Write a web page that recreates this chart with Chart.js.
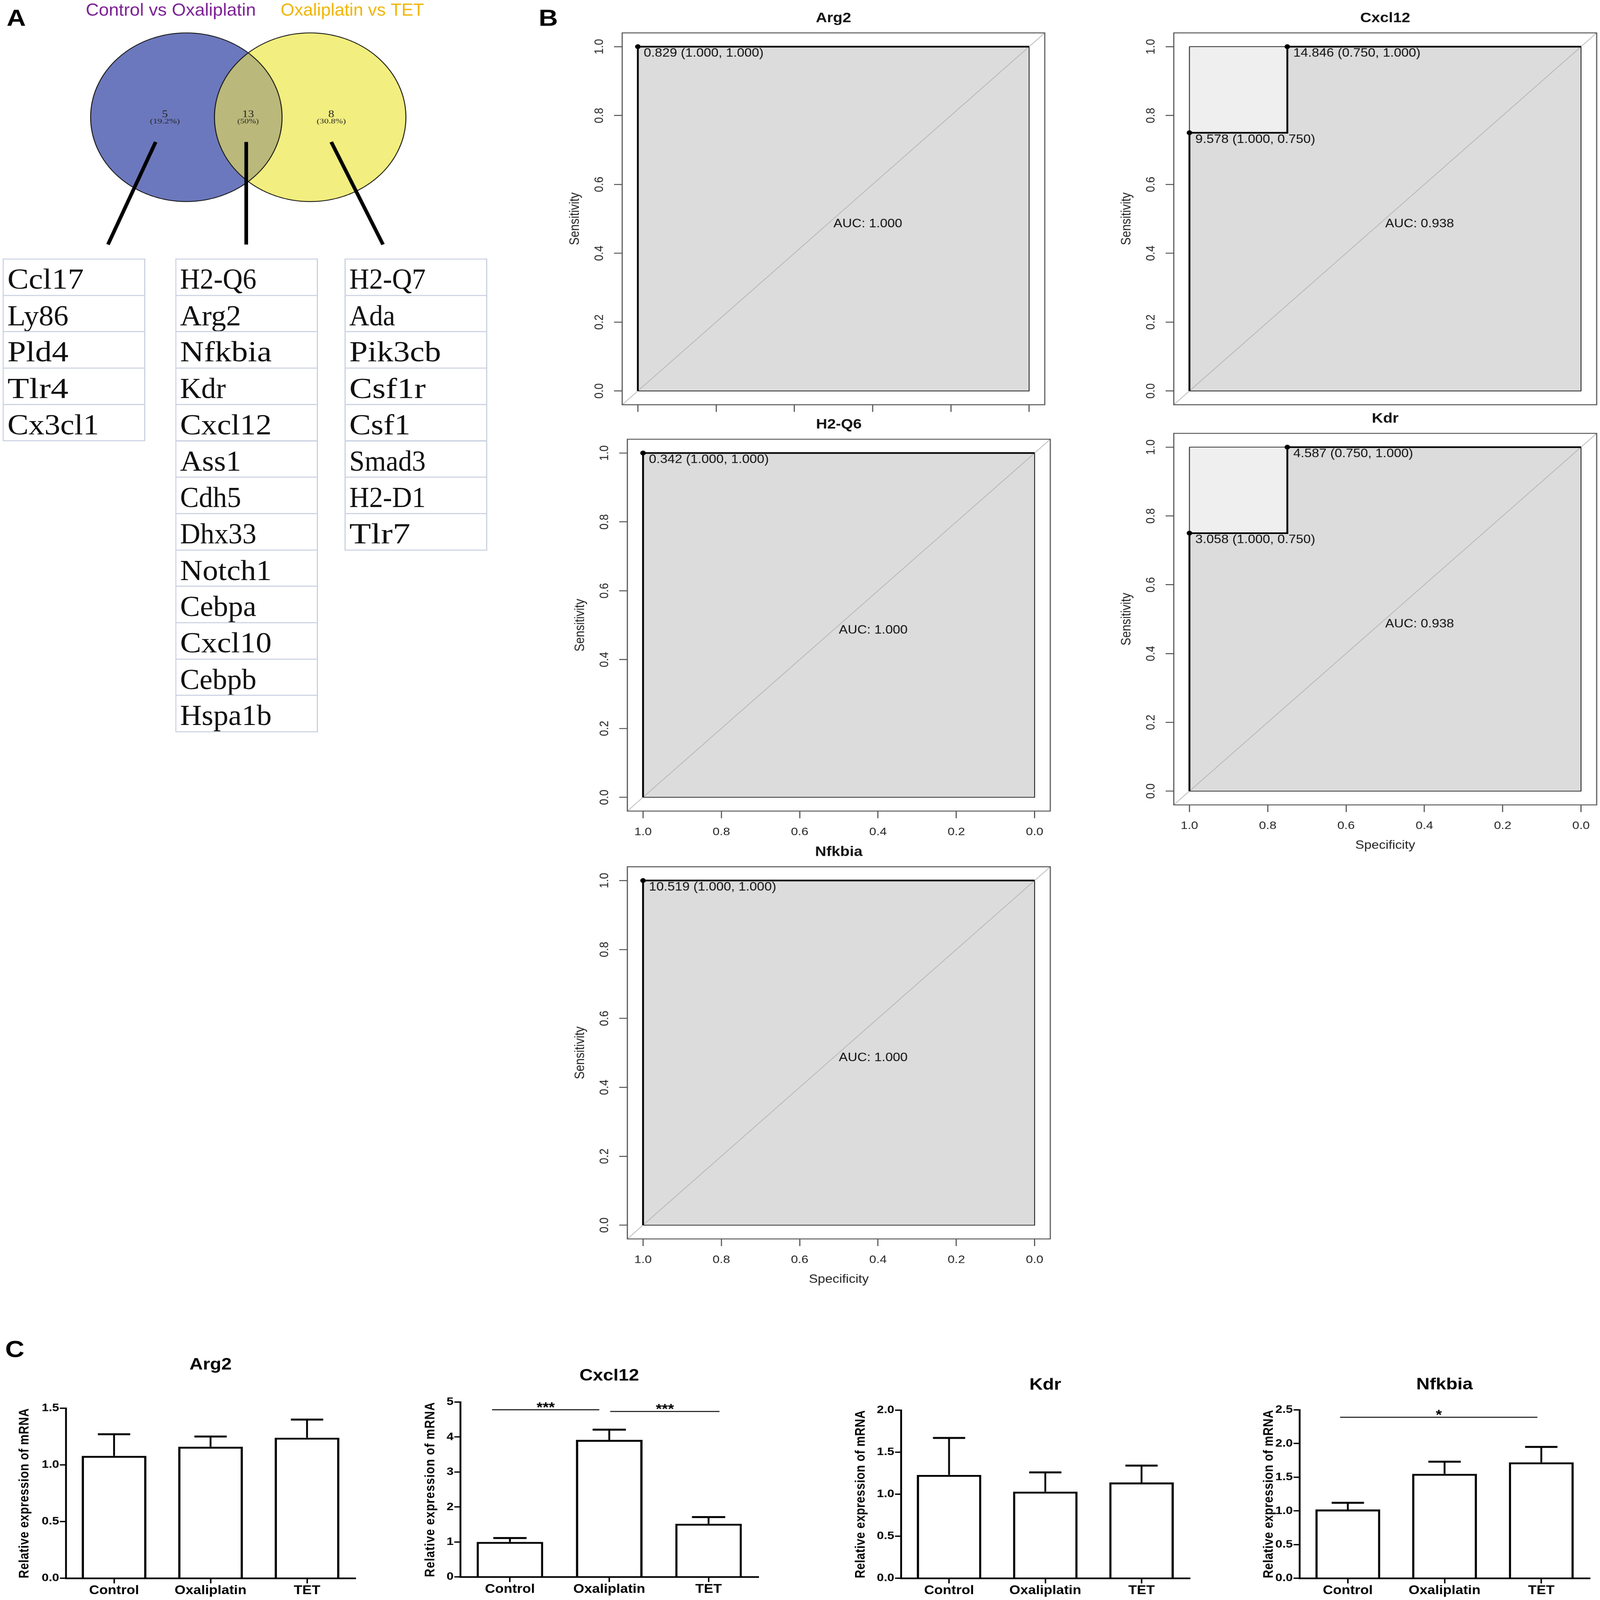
<!DOCTYPE html>
<html>
<head>
<meta charset="utf-8">
<title>Venn, ROC and qPCR panels</title>
<script src="https://cdn.jsdelivr.net/npm/chart.js@4.4.1/dist/chart.umd.min.js"></script>
<style>
  html, body { margin: 0; padding: 0; background: #fff; overflow: hidden; }
  #page { position: relative; width: 4328px; height: 4914px; overflow: hidden; background: #fff; transform-origin: 0 0; }
  #page canvas { position: absolute; }
  .panel { position: absolute; font: bold 72px "Liberation Sans", Arial, sans-serif; line-height: 72px; color: #000; }
  .cell { position: absolute; box-sizing: border-box; border: 3px solid #c8cfe0; background: #fff; }
  .cell span { position: absolute; left: 10px; top: 15px; font: 90px "Liberation Serif", serif; line-height: 90px;
               color: #111; transform-origin: 0 0; white-space: nowrap; }
</style>
</head>
<body>
<div id="page">
  <canvas id="venn"></canvas>
  <canvas id="rocArg2"></canvas>
  <canvas id="rocCxcl12"></canvas>
  <canvas id="rocH2q6"></canvas>
  <canvas id="rocKdr"></canvas>
  <canvas id="rocNfkbia"></canvas>
  <canvas id="barArg2"></canvas>
  <canvas id="barCxcl12"></canvas>
  <canvas id="barKdr"></canvas>
  <canvas id="barNfkbia"></canvas>
  <div class="panel" style="left:18px;top:18px">A</div>
  <div class="panel" style="left:1457px;top:18px">B</div>
  <div class="panel" style="left:14px;top:4107px">C</div>
</div>
<script>
Chart.defaults.font.family = '"Liberation Sans", Arial, sans-serif';
Chart.defaults.color = '#000';

// Panel A: Venn + gene lists
const setNames = ['Control vs Oxaliplatin', 'Oxaliplatin vs TET'];
const vennCounts = [5, 13, 8];
const vennShares = ['(19.2%)', '(50%)', '(30.8%)'];
const controlOxaOnly = ['Ccl17', 'Ly86', 'Pld4', 'Tlr4', 'Cx3cl1'];
const sharedGenes = ['H2-Q6', 'Arg2', 'Nfkbia', 'Kdr', 'Cxcl12', 'Ass1', 'Cdh5', 'Dhx33', 'Notch1', 'Cebpa', 'Cxcl10', 'Cebpb', 'Hspa1b'];
const oxaTetOnly = ['H2-Q7', 'Ada', 'Pik3cb', 'Csf1r', 'Csf1', 'Smad3', 'H2-D1', 'Tlr7'];

// Panel B: ROC curves (specificity, sensitivity)
const rocTicks = [0, 0.2, 0.4, 0.6, 0.8, 1];
const rocTickLabels = ['0.0', '0.2', '0.4', '0.6', '0.8', '1.0'];

const arg2Spec = [1, 1, 0];
const arg2Sens = [0, 1, 1];
const arg2CutSpec = [1];
const arg2CutSens = [1];
const arg2Cut = ['0.829'];
const arg2Auc = 1.000;

const cxcl12Spec = [1, 1, 0.75, 0.75, 0];
const cxcl12Sens = [0, 0.75, 0.75, 1, 1];
const cxcl12CutSpec = [1, 0.75];
const cxcl12CutSens = [0.75, 1];
const cxcl12Cut = ['9.578', '14.846'];
const cxcl12Auc = 0.938;

const h2q6Spec = [1, 1, 0];
const h2q6Sens = [0, 1, 1];
const h2q6CutSpec = [1];
const h2q6CutSens = [1];
const h2q6Cut = ['0.342'];
const h2q6Auc = 1.000;

const kdrSpec = [1, 1, 0.75, 0.75, 0];
const kdrSens = [0, 0.75, 0.75, 1, 1];
const kdrCutSpec = [1, 0.75];
const kdrCutSens = [0.75, 1];
const kdrCut = ['3.058', '4.587'];
const kdrAuc = 0.938;

const nfkbiaSpec = [1, 1, 0];
const nfkbiaSens = [0, 1, 1];
const nfkbiaCutSpec = [1];
const nfkbiaCutSens = [1];
const nfkbiaCut = ['10.519'];
const nfkbiaAuc = 1.000;

// Panel C: relative mRNA expression (mean, upper error)
const groups = ['Control', 'Oxaliplatin', 'TET'];

const arg2Mean = [1.08, 1.16, 1.24];
const arg2Err = [0.19, 0.09, 0.16];
const arg2Ticks = [0, 0.5, 1, 1.5];
const arg2TickLabels = ['0.0', '0.5', '1.0', '1.5'];

const cxcl12Mean = [1.00, 3.92, 1.52];
const cxcl12Err = [0.11, 0.29, 0.19];
const cxcl12Ticks = [0, 1, 2, 3, 4, 5];
const cxcl12TickLabels = ['0', '1', '2', '3', '4', '5'];
const cxcl12Sig = [[-0.18, 0.90, 4.78, '***'], [1.01, 2.11, 4.73, '***']];

const kdrMean = [1.23, 1.03, 1.14];
const kdrErr = [0.44, 0.23, 0.20];
const kdrTicks = [0, 0.5, 1, 1.5, 2];
const kdrTickLabels = ['0.0', '0.5', '1.0', '1.5', '2.0'];

const nfkbiaMean = [1.02, 1.55, 1.72];
const nfkbiaErr = [0.10, 0.18, 0.23];
const nfkbiaTicks = [0, 0.5, 1, 1.5, 2, 2.5];
const nfkbiaTickLabels = ['0.0', '0.5', '1.0', '1.5', '2.0', '2.5'];
const nfkbiaSig = [[-0.08, 1.96, 2.39, '*']];

const page = document.getElementById('page');

// the figure is laid out at 4328x4914, then fitted into whatever window we get
function fitPage() {
    const sx = window.innerWidth / 4328;
    const sy = window.innerHeight / 4914;
    page.style.transform = 'scale(' + sx + ',' + sy + ')';
}
fitPage();

// put a canvas so that its chart area lands on "area"
function place(id, area, pad) {
    const c = document.getElementById(id);
    const w = area.r - area.l + pad.l + pad.r;
    const h = area.b - area.t + pad.t + pad.b;
    c.width = w;
    c.height = h;
    c.style.left = (area.l - pad.l) + 'px';
    c.style.top = (area.t - pad.t) + 'px';
    c.style.width = w + 'px';
    c.style.height = h + 'px';
    return c;
}

function fitText(ctx, text, cx, cy, width) {
    const w = ctx.measureText(text).width;
    ctx.save();
    ctx.translate(cx, cy);
    ctx.scale(width / w, 1);
    ctx.fillText(text, 0, 0);
    ctx.restore();
}

const baseOptions = {
    responsive: false,
    animation: false,
    devicePixelRatio: 1,
    events: [],
};

// ---- Venn ----
const vennPlugin = {
    id: 'vennDraw',
    afterDraw(chart) {
        const { ctx, scales: { x, y } } = chart;
        const X = v => x.getPixelForValue(v);
        const Y = v => y.getPixelForValue(v);
        const r = X(259) - X(0);
        const left = [X(504), Y(360)];
        const right = [X(839), Y(360)];
        const circle = c => { ctx.beginPath(); ctx.arc(c[0], c[1], r, 0, Math.PI * 2); };

        ctx.save();
        ctx.fillStyle = '#6c78bd'; circle(left); ctx.fill();
        ctx.fillStyle = '#f2ee7f'; circle(right); ctx.fill();
        ctx.save();
        circle(left); ctx.clip();
        ctx.fillStyle = '#bbb87b'; circle(right); ctx.fill();
        ctx.restore();
        ctx.strokeStyle = '#111'; ctx.lineWidth = 2.5;
        circle(left); ctx.stroke();
        circle(right); ctx.stroke();

        // set titles
        ctx.textAlign = 'center';
        ctx.textBaseline = 'alphabetic';
        ctx.font = '53px "Liberation Sans"';
        ctx.fillStyle = '#7b1f94';
        fitText(ctx, setNames[0], X(462), Y(48), 460);
        ctx.fillStyle = '#f1b400';
        fitText(ctx, setNames[1], X(953), Y(48), 388);

        // counts
        const cx = [X(446), X(671), X(896)];
        const shareW = [81, 58, 79];
        ctx.fillStyle = '#222';
        vennCounts.forEach((n, i) => {
            ctx.font = '32px "Liberation Serif"';
            ctx.fillText(String(n), cx[i], Y(360));
            ctx.font = '20px "Liberation Serif"';
            fitText(ctx, vennShares[i], cx[i], Y(379), shareW[i]);
        });

        // pointers to the gene lists
        ctx.strokeStyle = '#000';
        ctx.lineWidth = 10;
        [[421, 436, 292, 751], [666, 436, 666, 751], [896, 436, 1036, 751]].forEach(s => {
            ctx.beginPath();
            ctx.moveTo(X(s[0]), Y(s[1]));
            ctx.lineTo(X(s[2]), Y(s[3]));
            ctx.stroke();
        });
        ctx.restore();
    }
};

new Chart(place('venn', { l: 0, t: 0, r: 1400, b: 800 }, { l: 0, t: 0, r: 0, b: 0 }), {
    type: 'scatter',
    data: { datasets: [{ data: [] }] },
    options: Object.assign({}, baseOptions, {
        layout: { padding: 0 },
        plugins: { legend: { display: false }, tooltip: { enabled: false } },
        scales: {
            x: { display: false, min: 0, max: 1400 },
            y: { display: false, min: 0, max: 800, reverse: true }
        }
    }),
    plugins: [vennPlugin]
});

// gene tables, each name squeezed to a fixed-pitch width like the original
const measureCtx = document.createElement('canvas').getContext('2d');
measureCtx.font = '90px "Liberation Serif"';
const tableCols = [controlOxaOnly, sharedGenes, oxaTetOnly];
const colLeft = [7, 474, 932];
tableCols.forEach((genes, c) => {
    genes.forEach((g, i) => {
        const d = document.createElement('div');
        d.className = 'cell';
        d.style.left = colLeft[c] + 'px';
        d.style.top = (794 + i * 111.7) + 'px';
        d.style.width = '386px';
        d.style.height = '114.7px';
        const s = document.createElement('span');
        s.textContent = g;
        const natural = measureCtx.measureText(g).width;
        s.style.transform = 'scaleX(' + (41.3 * g.length / natural) + ')';
        d.appendChild(s);
        page.appendChild(d);
    });
});

// ---- ROC ----
function rocPanel(id, box, title, spec, sens, cutSpec, cutSens, cuts, auc, show) {
    const pad = { l: 180, t: 100, r: 20, b: 170 };
    const canvas = place(id, box, pad);
    const curve = spec.map((s, i) => ({ x: s, y: sens[i] }));
    const cutPts = cutSpec.map((s, i) => ({ x: s, y: cutSens[i] }));
    const line = (data, extra) => Object.assign({
        data, pointRadius: 0, borderColor: 'rgba(0,0,0,0)', borderWidth: 1, fill: false, tension: 0
    }, extra);

    const rocLabels = {
        id: 'rocLabels',
        afterDatasetsDraw(chart) {
            const { ctx, chartArea: a, scales: { x, y } } = chart;
            ctx.save();
            ctx.strokeStyle = '#555';
            ctx.lineWidth = 3;
            ctx.strokeRect(a.left, a.top, a.right - a.left, a.bottom - a.top);
            ctx.fillStyle = '#111';
            ctx.font = '36px "Liberation Sans"';
            ctx.textAlign = 'left';
            ctx.textBaseline = 'middle';
            cutPts.forEach((p, i) => {
                ctx.fillText(cuts[i] + ' (' + p.x.toFixed(3) + ', ' + p.y.toFixed(3) + ')',
                    x.getPixelForValue(p.x) + 16, y.getPixelForValue(p.y) + 21);
            });
            ctx.fillText('AUC: ' + auc.toFixed(3), x.getPixelForValue(0.5), y.getPixelForValue(0.5) + 16);
            ctx.font = 'bold 42px "Liberation Sans"';
            ctx.textAlign = 'center';
            ctx.fillText(title, (a.left + a.right) / 2, a.top - 45);
            ctx.restore();
        }
    };

    new Chart(canvas, {
        type: 'line',
        data: {
            datasets: [
                line(cutPts, { showLine: false, pointRadius: 7, pointBackgroundColor: '#000', pointBorderColor: '#000', order: 0 }),
                line(curve, { borderColor: '#000', borderWidth: 5, order: 1 }),
                line([{ x: 1.04, y: -0.04 }, { x: -0.04, y: 1.04 }], { borderColor: '#b4b4b4', borderWidth: 2, order: 2 }),
                line([{ x: 1, y: 1 }, { x: 1, y: 0 }, { x: 0, y: 0 }, { x: 0, y: 1 }, { x: 1, y: 1 }], { borderColor: '#000', borderWidth: 2, order: 3 }),
                line(curve, { fill: 'origin', backgroundColor: '#dcdcdc', order: 4 }),
                line([{ x: 1, y: 1 }, { x: 0, y: 1 }], { fill: 'origin', backgroundColor: '#efefef', order: 5 })
            ]
        },
        options: Object.assign({}, baseOptions, {
            layout: { padding: { left: 0, top: pad.t, right: pad.r, bottom: 0 } },
            elements: { line: { borderJoinStyle: 'miter' } },
            plugins: { legend: { display: false }, tooltip: { enabled: false } },
            scales: {
                x: {
                    type: 'linear', min: -0.04, max: 1.04, reverse: true,
                    afterBuildTicks: a => { a.ticks = rocTicks.map(v => ({ value: v })); },
                    afterFit: s => { s.height = pad.b; },
                    grid: { display: show.ticks, drawOnChartArea: false, tickLength: 22, lineWidth: 3, color: '#555' },
                    border: { display: false },
                    ticks: {
                        autoSkip: false, maxRotation: 0, padding: 22,
                        color: show.labels ? '#222' : 'rgba(0,0,0,0)', font: { size: 34 },
                        callback: (v, i) => rocTickLabels[i]
                    },
                    title: { display: show.title, text: 'Specificity', color: '#222', font: { size: 36 }, padding: { top: 0, bottom: 23 } }
                },
                y: {
                    type: 'linear', min: -0.04, max: 1.04,
                    afterBuildTicks: a => { a.ticks = rocTicks.map(v => ({ value: v })); },
                    afterFit: s => { s.width = pad.l; },
                    grid: { drawOnChartArea: false, tickLength: 22, lineWidth: 3, color: '#555' },
                    border: { display: false },
                    ticks: {
                        autoSkip: false, minRotation: 90, maxRotation: 90, crossAlign: 'center', padding: 16,
                        color: '#222', font: { size: 34 },
                        callback: (v, i) => rocTickLabels[i]
                    },
                    title: { display: true, text: 'Sensitivity', color: '#222', font: { size: 36 }, padding: { top: 31, bottom: 0 } }
                }
            }
        }),
        plugins: [rocLabels]
    });
}

rocPanel('rocArg2', { l: 1683, t: 101, r: 2826, b: 1243 }, 'Arg2',
    arg2Spec, arg2Sens, arg2CutSpec, arg2CutSens, arg2Cut, arg2Auc, { ticks: true, labels: false, title: false });
rocPanel('rocCxcl12', { l: 3175, t: 101, r: 4319, b: 1243 }, 'Cxcl12',
    cxcl12Spec, cxcl12Sens, cxcl12CutSpec, cxcl12CutSens, cxcl12Cut, cxcl12Auc, { ticks: false, labels: false, title: false });
rocPanel('rocH2q6', { l: 1697, t: 1349, r: 2841, b: 2491 }, 'H2-Q6',
    h2q6Spec, h2q6Sens, h2q6CutSpec, h2q6CutSens, h2q6Cut, h2q6Auc, { ticks: true, labels: true, title: false });
rocPanel('rocKdr', { l: 3175, t: 1331, r: 4319, b: 2472 }, 'Kdr',
    kdrSpec, kdrSens, kdrCutSpec, kdrCutSens, kdrCut, kdrAuc, { ticks: true, labels: true, title: true });
rocPanel('rocNfkbia', { l: 1697, t: 2662, r: 2841, b: 3805 }, 'Nfkbia',
    nfkbiaSpec, nfkbiaSens, nfkbiaCutSpec, nfkbiaCutSens, nfkbiaCut, nfkbiaAuc, { ticks: true, labels: true, title: true });

// ---- qPCR bars ----
function barPanel(id, area, title, titleGap, yTitleGap, mean, err, ticks, tickLabels, sig) {
    const pad = { l: 170, t: 180, r: 30, b: 67 };
    const canvas = place(id, area, pad);

    const barDeco = {
        id: 'barDeco',
        afterDatasetsDraw(chart) {
            const { ctx, chartArea: a, scales: { x, y } } = chart;
            const bars = chart.getDatasetMeta(0).data;
            ctx.save();
            ctx.strokeStyle = '#000';
            ctx.fillStyle = '#000';
            // upper error bars
            bars.forEach((bar, i) => {
                const top = y.getPixelForValue(mean[i] + err[i]);
                const half = bar.width * 0.25;
                ctx.lineWidth = 5;
                ctx.beginPath(); ctx.moveTo(bar.x, bar.y); ctx.lineTo(bar.x, top); ctx.stroke();
                ctx.lineWidth = 6;
                ctx.beginPath(); ctx.moveTo(bar.x - half, top); ctx.lineTo(bar.x + half, top); ctx.stroke();
            });
            // significance brackets
            ctx.lineWidth = 3;
            ctx.font = 'bold 42px "Liberation Sans"';
            ctx.textAlign = 'center';
            ctx.textBaseline = 'alphabetic';
            (sig || []).forEach(s => {
                const x0 = x.getPixelForValue(s[0]);
                const x1 = x.getPixelForValue(s[1]);
                const yy = y.getPixelForValue(s[2]);
                ctx.beginPath(); ctx.moveTo(x0, yy); ctx.lineTo(x1, yy); ctx.stroke();
                ctx.fillText(s[3], (x0 + x1) / 2, yy + 6);
            });
            // title
            ctx.font = 'bold 50px "Liberation Sans"';
            ctx.textBaseline = 'middle';
            ctx.fillText(title, (a.left + a.right) / 2, a.top - titleGap);
            // y axis title, stretched over the axis
            const text = 'Relative expression of mRNA';
            ctx.font = 'bold 36px "Liberation Sans"';
            const len = a.bottom - a.top;
            const w = ctx.measureText(text).width;
            ctx.translate(a.left - yTitleGap, (a.top + a.bottom) / 2);
            ctx.rotate(-Math.PI / 2);
            if ('letterSpacing' in ctx) {
                ctx.letterSpacing = ((len - w) / (text.length - 1)) + 'px';
                ctx.fillText(text, 0, 0);
                ctx.letterSpacing = '0px';
            } else {
                ctx.scale(len / w, 1);
                ctx.fillText(text, 0, 0);
            }
            ctx.restore();
        }
    };

    new Chart(canvas, {
        type: 'bar',
        data: {
            labels: groups,
            datasets: [{
                data: mean,
                backgroundColor: '#fff',
                borderColor: '#000',
                borderWidth: 6,
                barPercentage: 0.67,
                categoryPercentage: 1
            }]
        },
        options: Object.assign({}, baseOptions, {
            layout: { padding: { left: 0, top: pad.t, right: pad.r, bottom: 0 } },
            plugins: { legend: { display: false }, tooltip: { enabled: false } },
            scales: {
                x: {
                    z: 1,
                    afterFit: s => { s.height = pad.b; },
                    grid: { offset: false, drawOnChartArea: false, tickLength: 16, lineWidth: 4, color: '#000' },
                    border: { display: true, width: 5, color: '#000' },
                    ticks: { maxRotation: 0, padding: 0, color: '#000', font: { size: 38, weight: 'bold' } }
                },
                y: {
                    min: 0, max: ticks[ticks.length - 1],
                    afterBuildTicks: a => { a.ticks = ticks.map(v => ({ value: v })); },
                    afterFit: s => { s.width = pad.l; },
                    grid: { drawOnChartArea: false, tickLength: 16, lineWidth: 4, color: '#000' },
                    border: { display: true, width: 5, color: '#000' },
                    ticks: { padding: 2, color: '#000', font: { size: 34, weight: 'bold' }, callback: (v, i) => tickLabels[i] }
                }
            }
        }),
        plugins: [barDeco]
    });
}

barPanel('barArg2', { l: 178, t: 4325, r: 961, b: 4847 }, 'Arg2', 133, 111,
    arg2Mean, arg2Err, arg2Ticks, arg2TickLabels, null);
barPanel('barCxcl12', { l: 1245, t: 4306, r: 2051, b: 4843 }, 'Cxcl12', 80, 80,
    cxcl12Mean, cxcl12Err, cxcl12Ticks, cxcl12TickLabels, cxcl12Sig);
barPanel('barKdr', { l: 2437, t: 4331, r: 3218, b: 4847 }, 'Kdr', 77, 108,
    kdrMean, kdrErr, kdrTicks, kdrTickLabels, null);
barPanel('barNfkbia', { l: 3515, t: 4330, r: 4300, b: 4847 }, 'Nfkbia', 77, 82,
    nfkbiaMean, nfkbiaErr, nfkbiaTicks, nfkbiaTickLabels, nfkbiaSig);
</script>
</body>
</html>
